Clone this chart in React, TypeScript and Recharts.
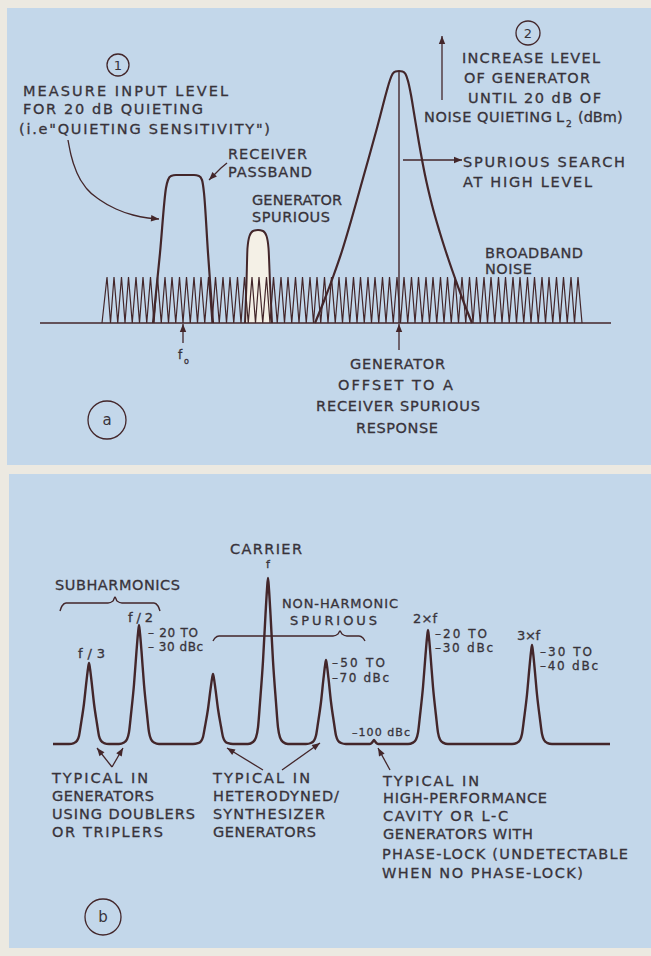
import { ComposedChart, Line, Area, XAxis, YAxis, ReferenceDot, Customized } from 'recharts';

const INK = '#43262a';
const TEXT = '#38333a';
const PANEL = '#c3d7ea';
const PAPER = '#ece9e1';
const BUMP = '#f4f0e6';
const FONT = "'DejaVu Sans', sans-serif";

type Pt = { x: number; h: number };
const pts = (arr: number[][]): Pt[] => arr.map(([x, h]) => ({ x, h }));

// ---- panel (a): heights above the baseline, x in page pixels ----
const BASELINE_A = pts([[40, 0], [611, 0]]);
const NOISE_START = 102;
const NOISE_END = 582;
const NOISE_HEIGHT = 46;
const NOISE_TEETH_X = [
  107, 114, 121.5, 128.5, 136, 143, 150.5, 157.5, 165, 172, 179.5, 186.5, 194, 201, 208.5, 215.5,
  223, 230, 237.5, 244.5, 252, 259, 266.5, 273.5, 281, 288, 295.5, 302.5, 310, 317, 324.5, 331.5,
  339, 346, 353.5, 360.5, 368, 375, 382.5, 389.5, 397, 404, 411.5, 418.5, 426, 433, 440.5, 447.5,
  455, 462, 469.5, 476.5, 484, 491, 498.5, 505.5, 513, 520, 527.5, 534.5, 542, 549, 556.5, 563.5,
  571, 578,
];
const PASSBAND = pts([
  [153, 0], [160, 70], [166, 135], [168, 143], [171, 147], [176, 148], [194, 148], [199, 147],
  [202, 143], [204, 130], [208, 70], [213, 0],
]);
const GEN_SPURIOUS = pts([
  [245, 0], [246.5, 40], [247.5, 75], [249.5, 87], [253, 92], [258, 93], [263, 92], [266.5, 87],
  [268.5, 75], [270, 40], [272, 0],
]);
const GEN_PEAK = pts([
  [315, 0], [324, 22], [333, 46], [342, 72], [351, 102], [360, 134], [369, 166], [377, 195],
  [383, 218], [387, 233], [390, 243], [392.5, 249], [395.5, 251.5], [399, 252], [402.5, 251.5],
  [405.5, 249], [408, 242], [411, 228], [414, 210], [419, 180], [425, 148], [432, 118], [440, 90],
  [448, 65], [456, 42], [464, 20], [472, 0],
]);
const OFFSET_LINE = pts([[399, 0], [399, 252]]);
const ARROWS_A = [
  pts([[183, -20], [183, -1]]),
  pts([[399, -27], [399, -1]]),
  pts([[442, 223], [442, 287]]),
  pts([[403, 163], [462, 163]]),
  pts([[227, 160], [221, 155], [214, 148], [209, 143]]),
];
const CURVED_ARROW = pts([
  [68, 183], [71, 168], [77, 150], [87, 134], [100, 123], [116, 114], [133, 108], [148, 105], [159, 104],
]);
const CIRCLES_A = [
  { x: 118, h: 258, r: 11, label: '1' },
  { x: 528, h: 290, r: 12, label: '2' },
  { x: 107, h: -97, r: 19, label: 'a' },
];

// ---- panel (b) ----
const BASELINE_B = [53, 610];
const PEAKS_B = [
  { name: 'f/3', x: 89, h: 81, w: 1 },
  { name: 'f/2', x: 139, h: 119, w: 1 },
  { name: 'spur L', x: 213, h: 70, w: 1 },
  { name: 'carrier', x: 268, h: 166, w: 1 },
  { name: 'spur R', x: 326, h: 84, w: 1 },
  { name: '-100 dBc', x: 374, h: 4, w: 0.3 },
  { name: '2xf', x: 428, h: 114, w: 1 },
  { name: '3xf', x: 532, h: 99, w: 1 },
];
// shape of one spectral line: [dx px, fraction of height]
const PEAK_PROFILE = [
  [-20, 0], [-15, 0.012], [-12, 0.04], [-10, 0.1], [-8, 0.25], [-5, 0.5], [-2.5, 0.78], [-1, 0.93],
  [0, 1], [1, 0.93], [2.5, 0.78], [5, 0.5], [8, 0.25], [10, 0.1], [12, 0.04], [15, 0.012], [20, 0],
];
const BRACES_B = [
  pts([[60, 133], [62, 138], [66, 141], [108, 141], [113, 143], [115, 147], [117, 143], [122, 141], [154, 141], [158, 138], [160, 133]]),
  pts([[213, 103], [215, 106], [219, 108], [333, 108], [338, 110], [340, 113], [342, 110], [347, 108], [359, 108], [363, 106], [365, 103]]),
];
const ARROWS_B = [
  pts([[112, -23], [97, -4]]),
  pts([[112, -23], [123, -4]]),
  pts([[263, -26], [227, -4]]),
  pts([[282, -26], [320, 1]]),
  pts([[390, -26], [378, -4]]),
];
const CIRCLES_B = [{ x: 103, h: -173, r: 18, label: 'b' }];

// ---- text (page pixels, y = text centre) ----
type Lbl = { t: string; x: number; y: number; w?: number; s?: number; a?: 'start' | 'middle' };
const LABELS: Lbl[] = [
  { t: 'MEASURE INPUT LEVEL', x: 23, y: 91, w: 205 },
  { t: 'FOR 20 dB QUIETING', x: 23, y: 109, w: 180 },
  { t: '(i.e"QUIETING SENSITIVITY")', x: 19, y: 129, w: 251 },
  { t: 'RECEIVER', x: 228, y: 154, w: 79 },
  { t: 'PASSBAND', x: 228, y: 172, w: 84 },
  { t: 'GENERATOR', x: 252, y: 200, w: 90 },
  { t: 'SPURIOUS', x: 252, y: 217, w: 78 },
  { t: 'INCREASE LEVEL', x: 462, y: 58, w: 138 },
  { t: 'OF GENERATOR', x: 464, y: 78, w: 126 },
  { t: 'UNTIL 20 dB OF', x: 468, y: 98, w: 133 },
  { t: 'NOISE QUIETING', x: 424, y: 117, w: 128 },
  { t: 'L', x: 556, y: 117 },
  { t: '2', x: 566, y: 124, s: 9 },
  { t: '(dBm)', x: 578, y: 117 },
  { t: 'SPURIOUS SEARCH', x: 463, y: 162, w: 162 },
  { t: 'AT HIGH LEVEL', x: 463, y: 182, w: 129 },
  { t: 'BROADBAND', x: 485, y: 253, w: 98 },
  { t: 'NOISE', x: 485, y: 269, w: 47 },
  { t: 'f', x: 178, y: 355, s: 12 },
  { t: 'o', x: 184, y: 361, s: 8 },
  { t: 'GENERATOR', x: 350, y: 364, w: 95 },
  { t: 'OFFSET TO A', x: 338, y: 385, w: 115 },
  { t: 'RECEIVER SPURIOUS', x: 316, y: 406, w: 164 },
  { t: 'RESPONSE', x: 356, y: 428, w: 82 },

  { t: 'CARRIER', x: 230, y: 549, w: 72 },
  { t: 'f', x: 268, y: 564, s: 11, a: 'middle' },
  { t: 'SUBHARMONICS', x: 55, y: 585, w: 125 },
  { t: 'f/2', x: 128, y: 617, w: 25, s: 13 },
  { t: '– 20 TO', x: 148, y: 633, w: 50, s: 12 },
  { t: '– 30 dBc', x: 148, y: 647, w: 55, s: 12 },
  { t: 'f/3', x: 78, y: 653, w: 27, s: 13 },
  { t: 'NON-HARMONIC', x: 282, y: 603, w: 116, s: 13 },
  { t: 'SPURIOUS', x: 290, y: 620, w: 87, s: 13 },
  { t: '–50 TO', x: 332, y: 663, w: 53, s: 12 },
  { t: '–70 dBc', x: 332, y: 678, w: 57, s: 12 },
  { t: '2×f', x: 413, y: 618, w: 24, s: 13 },
  { t: '–20 TO', x: 435, y: 634, w: 52, s: 12 },
  { t: '–30 dBc', x: 435, y: 648, w: 58, s: 12 },
  { t: '3×f', x: 517, y: 635, w: 23, s: 13 },
  { t: '–30 TO', x: 540, y: 652, w: 52, s: 12 },
  { t: '–40 dBc', x: 540, y: 666, w: 58, s: 12 },
  { t: '–100 dBc', x: 352, y: 732, w: 58, s: 11 },

  { t: 'TYPICAL IN', x: 52, y: 778, w: 96 },
  { t: 'GENERATORS', x: 52, y: 796, w: 102 },
  { t: 'USING DOUBLERS', x: 52, y: 814, w: 143 },
  { t: 'OR TRIPLERS', x: 52, y: 832, w: 111 },
  { t: 'TYPICAL IN', x: 213, y: 778, w: 97 },
  { t: 'HETERODYNED/', x: 213, y: 796, w: 126 },
  { t: 'SYNTHESIZER', x: 213, y: 814, w: 112 },
  { t: 'GENERATORS', x: 213, y: 832, w: 103 },
  { t: 'TYPICAL IN', x: 383, y: 781, w: 96 },
  { t: 'HIGH-PERFORMANCE', x: 383, y: 798, w: 164 },
  { t: 'CAVITY OR L-C', x: 383, y: 816, w: 125 },
  { t: 'GENERATORS WITH', x: 383, y: 834, w: 150 },
  { t: 'PHASE-LOCK (UNDETECTABLE', x: 382, y: 854, w: 246 },
  { t: 'WHEN NO PHASE-LOCK)', x: 382, y: 873, w: 201 },
];

const W = 651;
const H = 956;
const BASE_A_Y = 323; // page y of panel (a) baseline
const BASE_B_Y = 744; // page y of panel (b) baseline

const noiseData: Pt[] = [
  { x: NOISE_START, h: 0 },
  ...NOISE_TEETH_X.flatMap((x, i) =>
    i === 0 ? [{ x, h: NOISE_HEIGHT }] : [{ x: (NOISE_TEETH_X[i - 1] + x) / 2, h: 0 }, { x, h: NOISE_HEIGHT }],
  ),
  { x: NOISE_END, h: 0 },
];

const spectrumData: Pt[] = [
  { x: BASELINE_B[0], h: 0 },
  ...PEAKS_B.flatMap((p) => PEAK_PROFILE.map(([dx, f]) => ({ x: p.x + dx * p.w, h: f * p.h }))),
  { x: BASELINE_B[1], h: 0 },
];

const arrowHead = (data: Pt[]) => (props: any) => {
  const { cx, cy, index } = props;
  if (index !== data.length - 1 || cx == null) return <g key={`n${index}`} />;
  const a = data[index - 1];
  const b = data[index];
  const ang = Math.atan2(-(b.h - a.h), b.x - a.x);
  const len = 8;
  const half = 3.2;
  const bx = cx - len * Math.cos(ang);
  const by = cy - len * Math.sin(ang);
  const p2 = [bx + half * Math.sin(ang), by - half * Math.cos(ang)];
  const p3 = [bx - half * Math.sin(ang), by + half * Math.cos(ang)];
  return <polygon key={`h${index}`} points={`${cx},${cy} ${p2[0]},${p2[1]} ${p3[0]},${p3[1]}`} fill={INK} />;
};

function Annotations() {
  return (
    <g fontFamily={FONT} fill={TEXT} stroke={TEXT} strokeWidth={0.3}>
      {LABELS.map((l, i) => (
        <text
          key={i}
          x={l.x}
          y={l.y}
          fontSize={l.s ?? 14.5}
          textAnchor={l.a ?? 'start'}
          dominantBaseline="central"
          textLength={l.w}
          lengthAdjust={l.w ? 'spacing' : undefined}
        >
          {l.t}
        </text>
      ))}
    </g>
  );
}

const lineProps = {
  dataKey: 'h',
  stroke: INK,
  dot: false,
  activeDot: false,
  isAnimationActive: false,
  legendType: 'none' as const,
};

export default function App() {
  return (
    <div style={{ position: 'absolute', left: 0, top: 0, width: W, height: H, background: PAPER, overflow: 'hidden' }}>
      <div style={{ position: 'absolute', left: 7, top: 8, width: 644, height: 457, background: PANEL }} />
      <div style={{ position: 'absolute', left: 9, top: 474, width: 642, height: 474, background: PANEL }} />
      <div style={{ position: 'absolute', left: 0, top: 0 }}>
        <ComposedChart width={W} height={H} margin={{ top: 0, right: 0, bottom: 0, left: 0 }}>
          <XAxis type="number" dataKey="x" domain={[0, W]} hide allowDataOverflow />
          <YAxis yAxisId="a" type="number" domain={[BASE_A_Y - H, BASE_A_Y]} hide allowDataOverflow />
          <YAxis yAxisId="b" type="number" domain={[BASE_B_Y - H, BASE_B_Y]} hide allowDataOverflow />

          {/* panel (a) */}
          <Line {...lineProps} yAxisId="a" data={noiseData} type="linear" strokeWidth={1.2} />
          <Line {...lineProps} yAxisId="a" data={PASSBAND} type="monotone" strokeWidth={2.2} />
          <Area
            dataKey="h"
            yAxisId="a"
            data={GEN_SPURIOUS}
            type="monotone"
            stroke={INK}
            strokeWidth={2}
            fill={BUMP}
            fillOpacity={1}
            baseValue={0}
            isAnimationActive={false}
            activeDot={false}
            legendType="none"
          />
          <Area
            dataKey="h"
            yAxisId="a"
            data={GEN_PEAK}
            type="monotone"
            stroke={INK}
            strokeWidth={2.2}
            fill={PANEL}
            fillOpacity={1}
            baseValue={0}
            isAnimationActive={false}
            activeDot={false}
            legendType="none"
          />
          <Line {...lineProps} yAxisId="a" data={BASELINE_A} type="linear" strokeWidth={1.6} />
          <Line {...lineProps} yAxisId="a" data={OFFSET_LINE} type="linear" strokeWidth={1.4} />
          {ARROWS_A.map((d, i) => (
            <Line key={`aa${i}`} {...lineProps} yAxisId="a" data={d} type="linear" strokeWidth={1.3} dot={arrowHead(d)} />
          ))}
          <Line {...lineProps} yAxisId="a" data={CURVED_ARROW} type="monotone" strokeWidth={1.3} dot={arrowHead(CURVED_ARROW)} />
          {CIRCLES_A.map((c) => (
            <ReferenceDot
              key={c.label}
              yAxisId="a"
              x={c.x}
              y={c.h}
              r={c.r}
              fill="none"
              stroke={INK}
              strokeWidth={1.3}
              label={{ value: c.label, position: 'center', fill: TEXT, fontSize: c.r > 15 ? 15 : 13, fontFamily: FONT }}
            />
          ))}

          {/* panel (b) */}
          <Line {...lineProps} yAxisId="b" data={spectrumData} type="monotone" strokeWidth={2.4} />
          {BRACES_B.map((d, i) => (
            <Line key={`br${i}`} {...lineProps} yAxisId="b" data={d} type="monotone" strokeWidth={1.4} />
          ))}
          {ARROWS_B.map((d, i) => (
            <Line key={`ab${i}`} {...lineProps} yAxisId="b" data={d} type="linear" strokeWidth={1.3} dot={arrowHead(d)} />
          ))}
          {CIRCLES_B.map((c) => (
            <ReferenceDot
              key={c.label}
              yAxisId="b"
              x={c.x}
              y={c.h}
              r={c.r}
              fill="none"
              stroke={INK}
              strokeWidth={1.3}
              label={{ value: c.label, position: 'center', fill: TEXT, fontSize: 15, fontFamily: FONT }}
            />
          ))}

          <Customized component={Annotations} />
        </ComposedChart>
      </div>
    </div>
  );
}
